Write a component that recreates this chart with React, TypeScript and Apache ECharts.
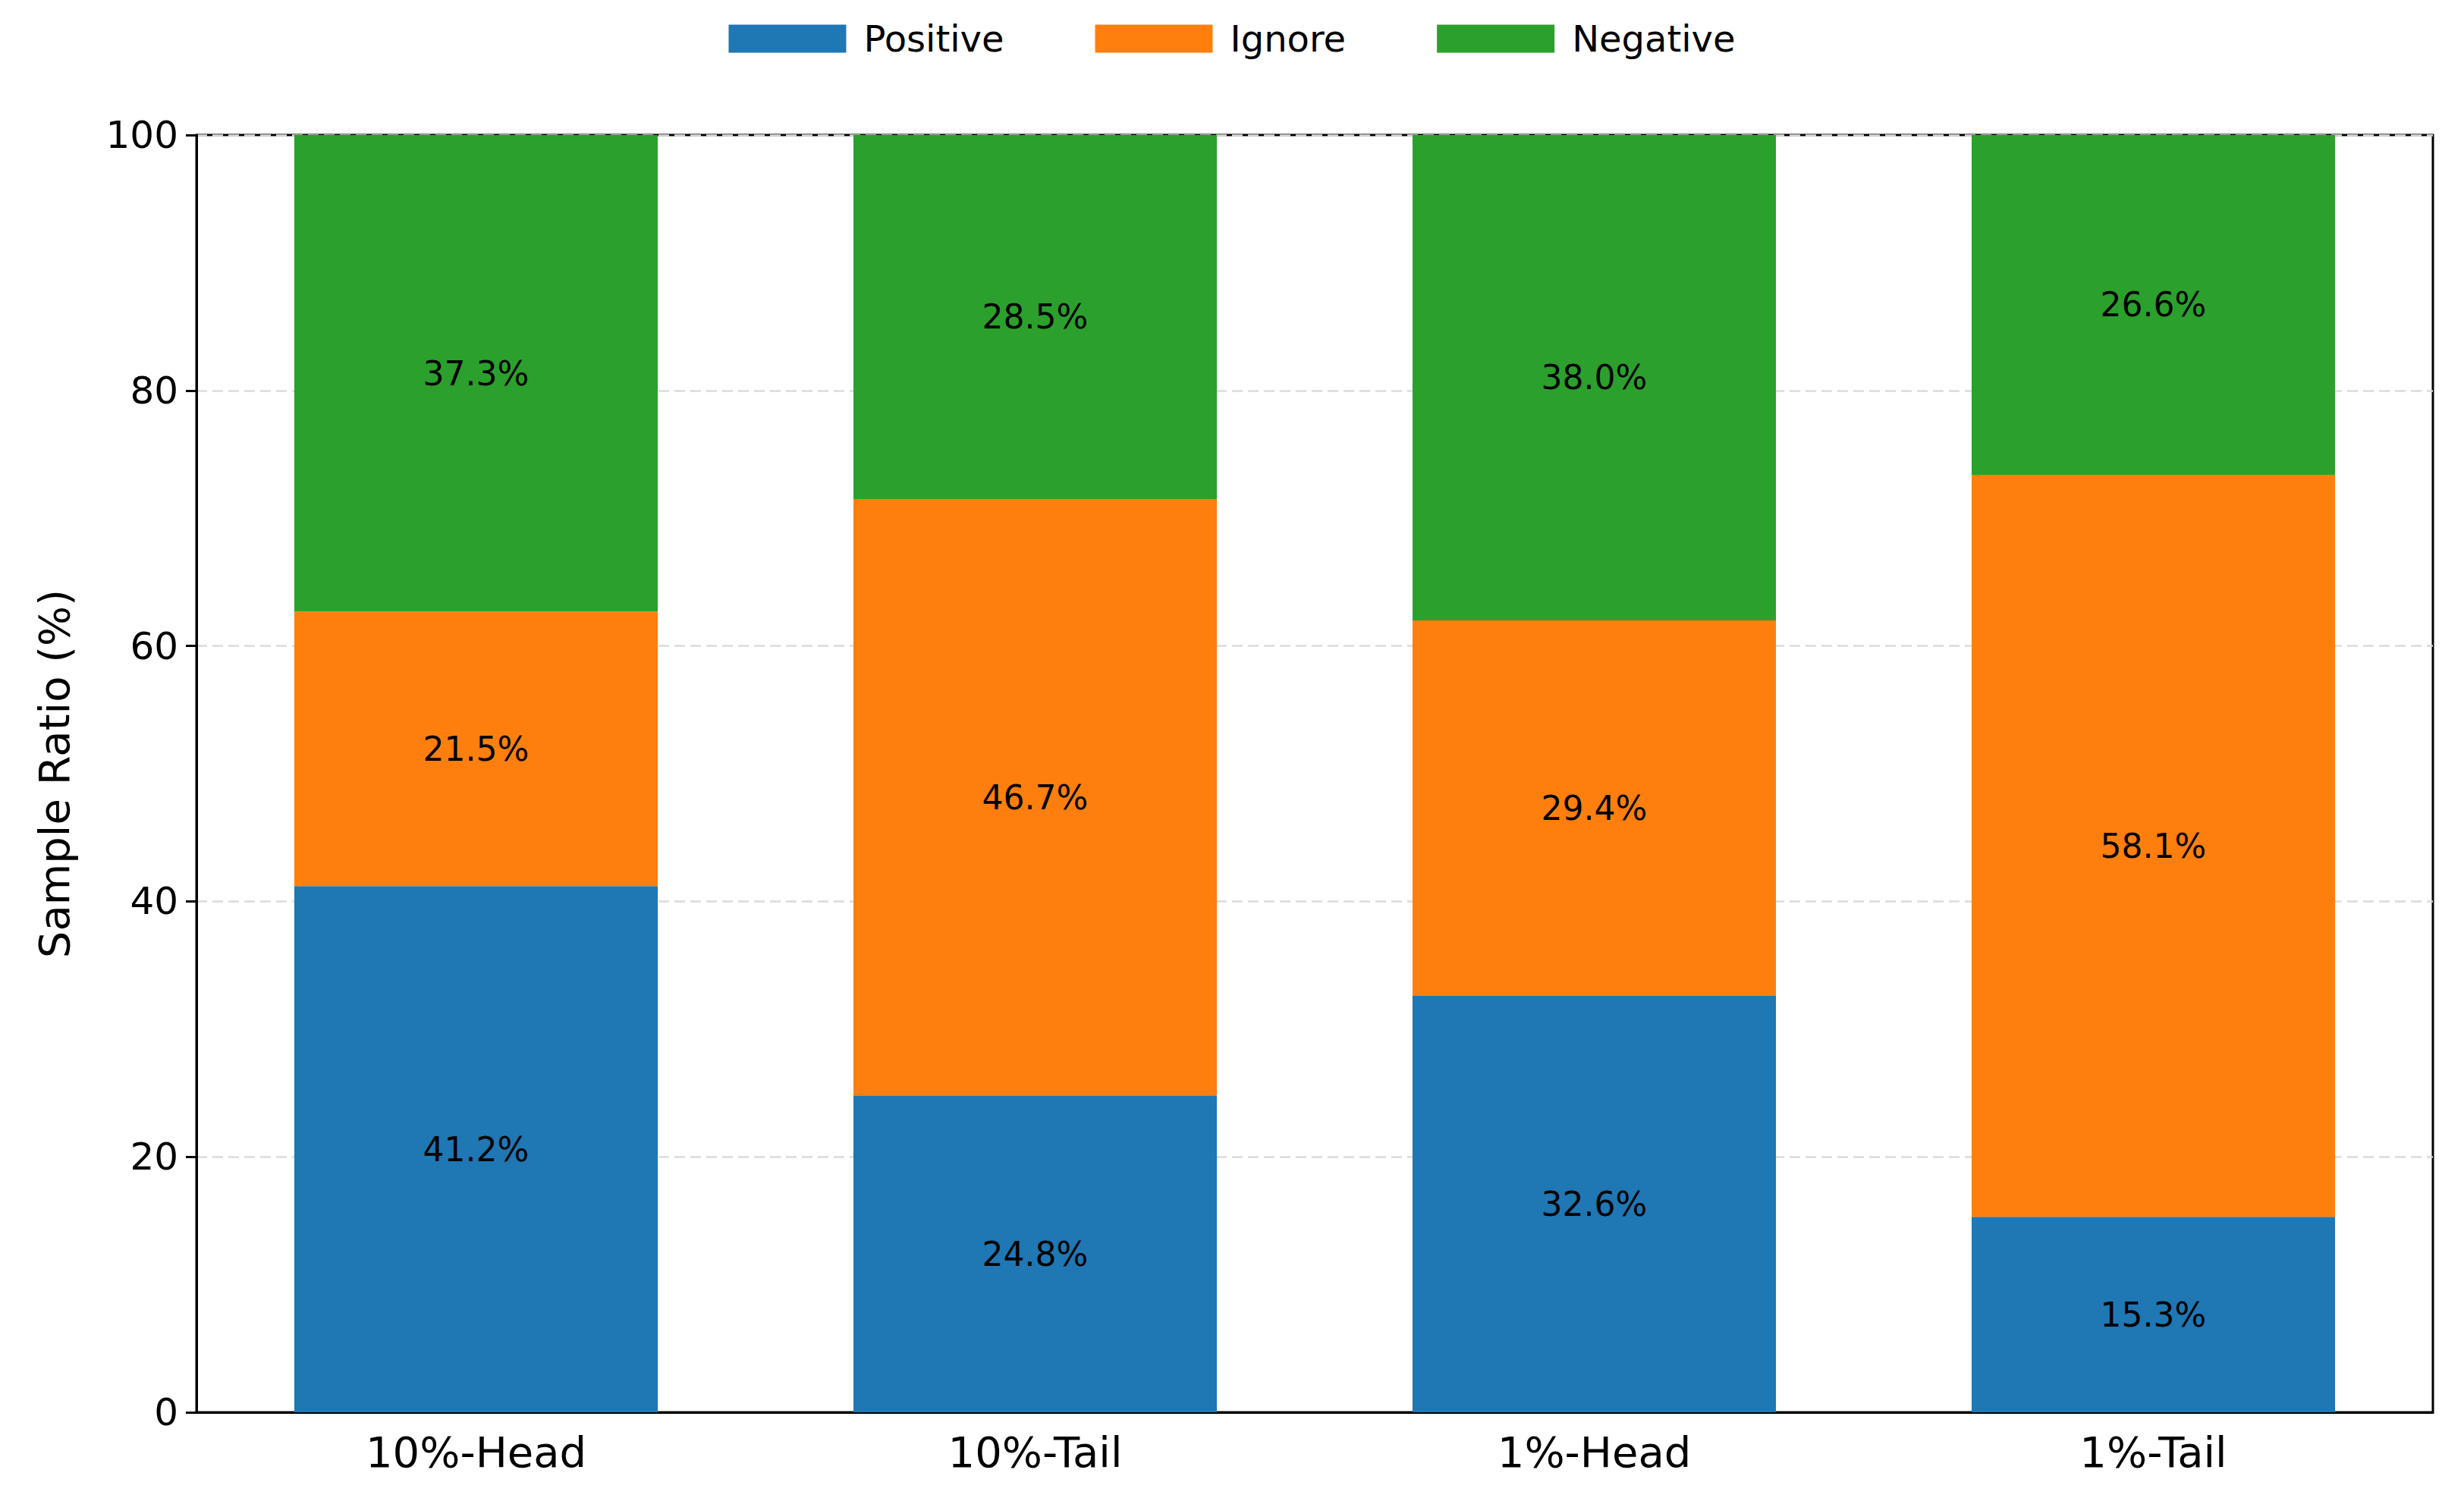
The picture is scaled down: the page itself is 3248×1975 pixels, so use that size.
import * as echarts from 'echarts';
import React, { useEffect, useRef } from 'react';

const categories = ['10%-Head', '10%-Tail', '1%-Head', '1%-Tail'];
const positive = [41.2, 24.8, 32.6, 15.3];
const ignore = [21.5, 46.7, 29.4, 58.1];
const negative = [37.3, 28.5, 38.0, 26.6];

const FONT = 'DejaVu Sans';

const App: React.FC = () => {
  const chartRef = useRef<HTMLDivElement>(null);

  useEffect(() => {
    document.body.style.margin = '0';
    if (!chartRef.current) return;
    const chart = echarts.init(chartRef.current, undefined, { renderer: 'svg' });

    const mk = (name: string, data: number[], color: string) => ({
      name,
      type: 'bar' as const,
      stack: 'total',
      data,
      barWidth: '65%',
      itemStyle: { color },
      label: {
        show: true,
        position: 'inside' as const,
        formatter: (p: any) => p.value.toFixed(1) + '%',
        color: '#000',
        fontFamily: FONT,
        fontSize: 44,
      },
    });

    chart.setOption({
      animation: false,
      textStyle: { fontFamily: FONT },
      legend: {
        top: 22,
        left: 'center',
        itemWidth: 155,
        itemHeight: 37,
        itemGap: 120,
        icon: 'rect',
        textStyle: { fontFamily: FONT, fontSize: 48, color: '#000', padding: [0, 0, 0, 18] },
        data: ['Positive', 'Ignore', 'Negative'],
      },
      grid: {
        left: 259,
        right: 41,
        top: 178,
        bottom: 113,
        show: true,
        borderColor: '#000',
        borderWidth: 3,
      },
      xAxis: {
        type: 'category',
        data: categories,
        axisLine: { lineStyle: { color: '#000', width: 3 } },
        axisTick: { alignWithLabel: true, length: 14, lineStyle: { color: '#000', width: 3 } },
        axisLabel: { fontSize: 56, color: '#000', fontFamily: FONT, margin: 24 },
      },
      yAxis: {
        type: 'value',
        min: 0,
        max: 100,
        interval: 20,
        name: 'Sample Ratio (%)',
        nameLocation: 'middle',
        nameGap: 160,
        nameTextStyle: { fontSize: 56, color: '#000', fontFamily: FONT },
        axisLine: { show: true, lineStyle: { color: '#000', width: 3 } },
        axisTick: { show: true, length: 14, lineStyle: { color: '#000', width: 3 } },
        axisLabel: { fontSize: 50, color: '#000', fontFamily: FONT, margin: 24 },
        splitLine: { show: true, lineStyle: { color: '#dcdcdc', type: [14, 7], width: 2.5 } },
      },
      series: [
        mk('Positive', positive, '#1f77b4'),
        mk('Ignore', ignore, '#ff7f0e'),
        mk('Negative', negative, '#2ca02c'),
      ],
    });

    return () => chart.dispose();
  }, []);

  return (
    <div
      ref={chartRef}
      style={{ position: 'absolute', left: 0, top: 0, width: 3248, height: 1975, background: '#fff' }}
    />
  );
};

export default App;
